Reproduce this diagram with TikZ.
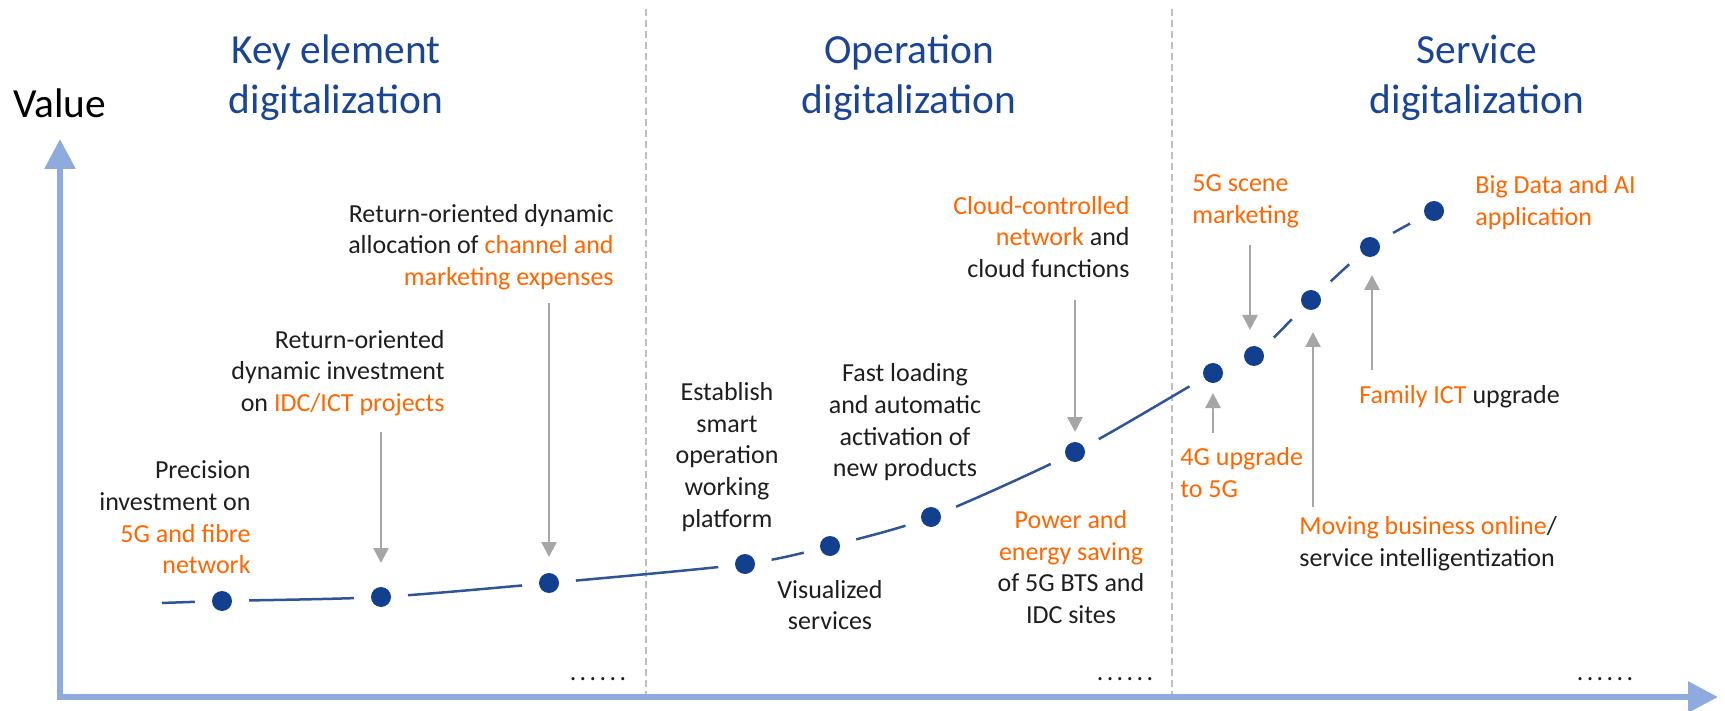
\documentclass[tikz,border=0pt]{standalone}
\usepackage{fontspec}
\setmainfont{Carlito}
\usetikzlibrary{arrows.meta}
\definecolor{hwblue}{HTML}{1A4594}
\definecolor{dotblue}{HTML}{123F8E}
\definecolor{curveblue}{HTML}{2F5597}
\definecolor{axisblue}{HTML}{8FAADC}
\definecolor{hworange}{HTML}{FF6600}
\definecolor{arrowgray}{HTML}{A6A6A6}
\definecolor{divgray}{HTML}{BFBFBF}
\definecolor{txt}{HTML}{1E1E1E}
\newcommand{\org}[1]{{\color{hworange}#1}}
\newcommand{\sixdots}{.\kern1.7pt.\kern1.7pt.\kern1.7pt.\kern1.7pt.\kern1.7pt.}
\begin{document}
\begin{tikzpicture}[x=0.5pt,y=-0.5pt,
  title/.style={font=\fontsize{20.7pt}{25pt}\selectfont, text=hwblue, align=center, inner sep=0pt},
  lbl/.style={font=\fontsize{13pt}{15.85pt}\selectfont, text=txt, inner sep=0pt},
  dotnode/.style={circle, fill=dotblue, minimum size=10pt, inner sep=0pt},
  garrow/.style={draw=arrowgray, line width=1.3pt, -{Triangle[length=7.5pt,width=7.5pt]}},
  axisline/.style={draw=axisblue, line width=3pt, {Triangle[length=15pt,width=15pt]}-{Triangle[length=15pt,width=15pt]}},
  divider/.style={draw=divgray, line width=0.6pt, dash pattern=on 3.5pt off 2pt},
  trend/.style={draw=curveblue, line width=1.25pt}
]
\useasboundingbox (0,0) rectangle (1725,711);

% dividers
\coordinate (v1t) at (646,9);
\coordinate (v1b) at (646,697);
\coordinate (v2t) at (1172,9);
\coordinate (v2b) at (1172,697);
\draw[divider] (v1t) -- (v1b);
\draw[divider] (v2t) -- (v2b);

% axes
\coordinate (ytip) at (60,139);
\coordinate (origin) at (60,697);
\coordinate (xtip) at (1718,697);
\draw[axisline, line join=miter] (ytip) -- (origin) -- (xtip);

% titles
\node[anchor=base west, font=\fontsize{20.7pt}{25pt}\selectfont, text=black, inner sep=0pt] (value) at (13,118) {Value};
\node[title] (t1) at (336,78) {Key element\\digitalization};
\node[title] (t2) at (909,78) {Operation\\digitalization};
\node[title] (t3) at (1477,78) {Service\\digitalization};

% trend points
\coordinate (p0) at (162,603);
\coordinate (p1) at (222,601);
\coordinate (p2) at (381,597);
\coordinate (p3) at (549,583);
\coordinate (p4) at (745,564);
\coordinate (p5) at (830,546);
\coordinate (p6) at (931,517);
\coordinate (p7) at (1075,452);
\coordinate (p8) at (1213,373);
\coordinate (p9) at (1254,356);
\coordinate (p10) at (1311,300);
\coordinate (p11) at (1370,247);
\coordinate (p12) at (1434,211);

\draw[trend] plot[smooth, tension=0.45] coordinates {(p0) (p1) (p2) (p3) (p4) (p5) (p6) (p7) (p8) (p9) (p10) (p11) (p12)};
\foreach \i in {1,...,12} \fill[white] (p\i) circle[radius=27];
\foreach \i in {1,...,12} \node[dotnode] (d\i) at (p\i) {};

% arrows
\coordinate (a2) at (381,432);
\coordinate (a3) at (549,303);
\coordinate (a7) at (1075,300);
\coordinate (a9) at (1250,245);
\coordinate (a8) at (1213,433);
\coordinate (a10) at (1313,507);
\coordinate (a11) at (1372,370);
\draw[garrow, shorten >=17pt] (a2) -- (d2.center);
\draw[garrow, shorten >=13pt] (a3) -- (d3.center);
\draw[garrow, shorten >=10pt] (a7) -- (d7.center);
\draw[garrow, shorten >=13pt] (a9) -- (a9 |- d9.center);
\draw[garrow, shorten >=10pt] (a8) -- (a8 |- d8.center);
\draw[garrow, shorten >=16pt] (a10) -- (a10 |- d10.center);
\draw[garrow, shorten >=14pt] (a11) -- (a11 |- d11.center);

% labels
\node[lbl, align=right, anchor=east] (l1) at (251,517.5) {Precision\\investment on\\\org{5G and fibre}\\\org{network}};
\node[lbl, align=right, anchor=east] (l2) at (445,373) {Return-oriented\\dynamic investment\\on \org{IDC/ICT projects}};
\node[lbl, align=right, anchor=east] (l3) at (614,247) {Return-oriented dynamic\\allocation of \org{channel and}\\\org{marketing expenses}};
\node[lbl, align=center] (l4) at (727,457) {Establish\\smart\\operation\\working\\platform};
\node[lbl, align=center] (l5) at (830,605) {Visualized\\services};
\node[lbl, align=center] (l6) at (905,422.5) {Fast loading\\and automatic\\activation of\\new products};
\node[lbl, align=right, anchor=east] (l7) at (1130,237) {\org{Cloud-controlled}\\\org{network} and\\cloud functions};
\node[lbl, align=center] (l8) at (1071,567) {\org{Power and}\\\org{energy saving}\\of 5G BTS and\\IDC sites};
\node[lbl, align=left, anchor=west] (l9) at (1192,201.5) {\org{5G scene}\\\org{marketing}};
\node[lbl, align=left, anchor=west] (l10) at (1475,202.5) {\org{Big Data and AI}\\\org{application}};
\node[lbl, align=left, anchor=west] (l11) at (1180,472.5) {\org{4G upgrade}\\\org{to 5G}};
\node[lbl, align=left, anchor=west] (l12) at (1299,544) {\org{Moving business online}/\\service intelligentization};
\node[lbl, align=left, anchor=west] (l13) at (1359,397) {\org{Family ICT} upgrade};

% ellipses
\node[lbl, anchor=base] (e1) at (598,680) {\sixdots};
\node[lbl, anchor=base] (e2) at (1125,680) {\sixdots};
\node[lbl, anchor=base] (e3) at (1605,680) {\sixdots};
\end{tikzpicture}
\end{document}
